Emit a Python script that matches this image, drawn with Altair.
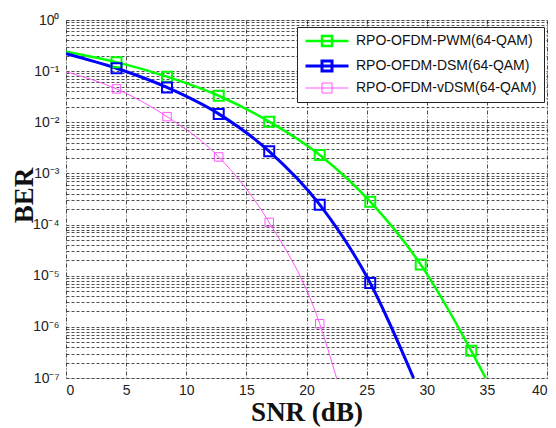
import altair as alt
import pandas as pd

series_names = ["RPO-OFDM-PWM(64-QAM)", "RPO-OFDM-DSM(64-QAM)", "RPO-OFDM-vDSM(64-QAM)"]
series_colors = ["#00ff00", "#0000ff", "#ff55ff"]
line_widths = [2.5, 3, 1]

# line vertices
pwm_snr = [0, 4.2, 8.4, 12.7, 16.9, 21.1, 25.3, 29.5, 33.7, 34.9]
pwm_ber = [0.24, 0.15, 0.078, 0.033, 0.0103, 0.0023, 2.8e-4, 1.65e-5, 3.4e-7, 1e-7]
dsm_snr = [0, 4.2, 8.4, 12.7, 16.9, 21.1, 25.3, 28.9]
dsm_ber = [0.22, 0.114, 0.048, 0.0146, 0.0027, 2.45e-4, 7.2e-6, 1e-7]
vdsm_snr = [0, 4.2, 8.4, 12.7, 16.9, 21.1, 22.5]
vdsm_ber = [0.097, 0.045, 0.0129, 0.0021, 1.1e-4, 1.15e-6, 1e-7]

# number of markers per series (markers at the inner vertices)
pwm_markers = 8
dsm_markers = 6
vdsm_markers = 5

x_ticks = [0, 5, 10, 15, 20, 25, 30, 35, 40]
y_tick_labels = ["10⁻⁷", "10⁻⁶", "10⁻⁵", "10⁻⁴", "10⁻³", "10⁻²", "10⁻¹", "10⁰"]

rows = []
mrows = []
for name, xs, ys, nm in [
    (series_names[0], pwm_snr, pwm_ber, pwm_markers),
    (series_names[1], dsm_snr, dsm_ber, dsm_markers),
    (series_names[2], vdsm_snr, vdsm_ber, vdsm_markers),
]:
    for x, y in zip(xs, ys):
        rows.append({"series": name, "snr": x, "ber": y})
    for x, y in zip(xs[1:1 + nm], ys[1:1 + nm]):
        mrows.append({"series": name, "snr": x, "ber": y})
line_df = pd.DataFrame(rows)
marker_df = pd.DataFrame(mrows)

y_values = []
for k in range(-7, 0):
    for m in range(1, 10):
        y_values.append(float(f"{m}e{k}"))
y_values.append(1.0)

label_arr = "[" + ",".join("'" + s + "'" for s in reversed(y_tick_labels)) + "]"
label_expr = (
    "abs(log(datum.value)/LN10 - round(log(datum.value)/LN10)) < 0.001 ? "
    + label_arr + "[-round(log(datum.value)/LN10)] : ''"
)

x_enc = alt.X(
    "snr:Q",
    scale=alt.Scale(domain=[0, 40], nice=False),
    axis=alt.Axis(
        values=x_ticks, title="SNR (dB)", grid=True, gridDash=[4, 2, 1, 2],
        gridColor="#222", gridWidth=0.8, ticks=False, domain=False,
        labelFont="Liberation Sans", labelFontSize=14, labelColor="#222",
        labelPadding=5, titleFont="Liberation Serif", titleFontWeight="bold",
        titleFontSize=27, titleColor="#111", titleY=42, titleBaseline="alphabetic",
    ),
)
y_enc = alt.Y(
    "ber:Q",
    scale=alt.Scale(type="log", domain=[1e-7, 1], nice=False),
    axis=alt.Axis(
        values=y_values, labelExpr=label_expr, title="BER", grid=True,
        gridDash=[3, 2], gridColor="#222", gridWidth=0.8, ticks=False,
        domain=False, labelOverlap=False, labelFont="Liberation Sans",
        labelFontSize=14, labelColor="#222", labelPadding=7,
        titleFont="Liberation Serif", titleFontWeight="bold", titleFontSize=27,
        titleColor="#111", titleX=-34, titleY=175, titleBaseline="alphabetic",
    ),
)

legend = alt.Legend(
    title=None, orient="none", legendX=231, legendY=7,
    symbolType="M-4.3,0H4.3M-1,-1H1V1H-1Z",
    symbolSize=100, symbolFillColor="transparent", symbolOffset=16,
    labelFont="Liberation Sans", labelFontSize=14, labelColor="#111",
    labelOffset=22, rowPadding=4, padding=7, strokeColor="#222",
    fillColor="white", labelLimit=300,
)

line = alt.Chart(line_df).mark_line(interpolate="monotone", clip=True).encode(
    x=x_enc,
    y=y_enc,
    color=alt.Color("series:N", scale=alt.Scale(domain=series_names, range=series_colors), legend=legend),
    strokeWidth=alt.StrokeWidth("series:N", scale=alt.Scale(type="ordinal", domain=series_names, range=line_widths), legend=legend),
)

points = alt.Chart(marker_df).mark_point(shape="square", filled=False, clip=True, opacity=1).encode(
    x="snr:Q",
    y="ber:Q",
    color=alt.Color("series:N", legend=None),
    size=alt.condition(alt.datum.series == series_names[2], alt.value(72), alt.value(100)),
    strokeWidth=alt.condition(alt.datum.series == series_names[2], alt.value(1), alt.value(2)),
)

chart = (
    alt.layer(line, points)
    .properties(width=481, height=358, autosize="none",
                padding={"left": 66, "top": 20, "right": 9, "bottom": 50})
    .configure_view(stroke="#333", strokeWidth=1)
    .configure(background="white")
)

chart.save("out.html", embed_options={"renderer": "svg", "actions": False})
